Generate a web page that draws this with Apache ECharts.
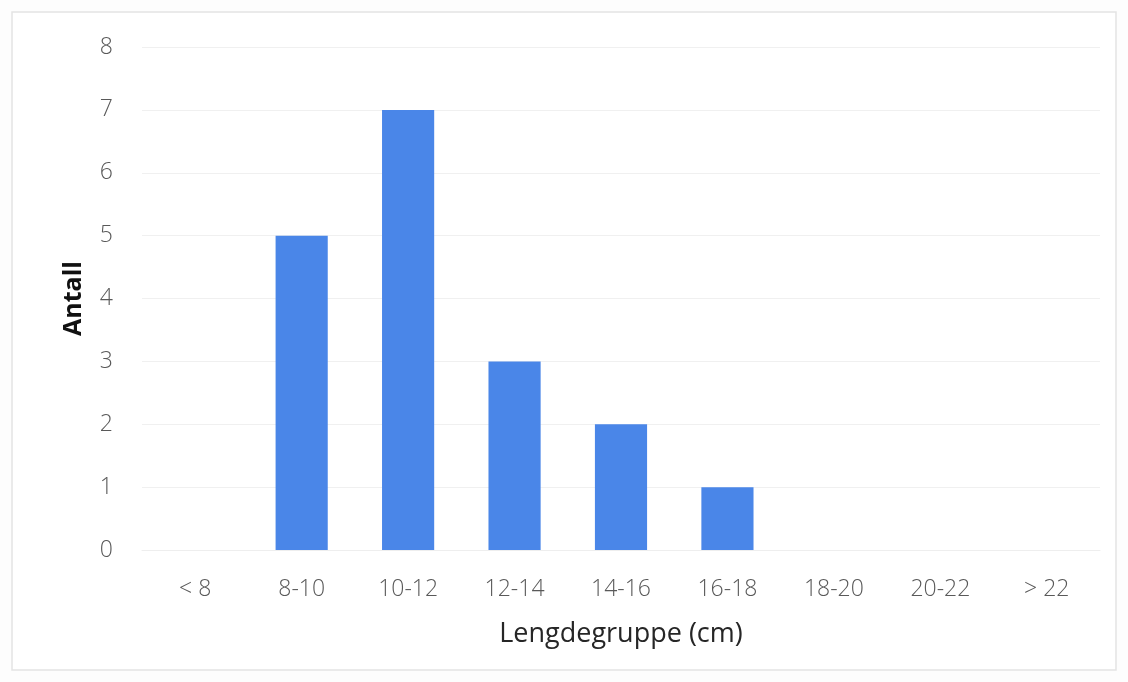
<!DOCTYPE html>
<html><head><meta charset="utf-8">
<script src="https://cdn.jsdelivr.net/npm/echarts@6/dist/echarts.min.js"></script>
<style>html,body{margin:0;padding:0;background:#fff}#c{width:1128px;height:682px}</style>
</head><body><div id="c"></div>
<script>
const categories = ["< 8","8-10","10-12","12-14","14-16","16-18","18-20","20-22","> 22"];
const counts = [0,5,7,3,2,1,0,0,0];
const yTicks = {min:0, max:8, interval:1};
const xTitle = "Lengdegruppe (cm)";
const yTitle = "Antall";

const chart = echarts.init(document.getElementById('c'));
chart.setOption({
  animation:false,
  backgroundColor:'#fdfdfd',
  graphic:[{type:'rect',shape:{x:12,y:12,width:1104,height:658},style:{fill:'#ffffff',stroke:'#e4e4e4',lineWidth:1.5},z:-10}],
  grid:{left:142,right:28,top:47,bottom:132},
  xAxis:{type:'category',data:categories,
    axisLine:{show:true,lineStyle:{color:'#eeeeee'}},axisTick:{show:false},
    axisLabel:{color:'#595959',fontSize:23,fontFamily:'Open Sans',fontWeight:300,margin:28},
    name:xTitle,nameLocation:'middle',nameGap:71,
    nameTextStyle:{color:'#262626',fontSize:27,fontFamily:'Open Sans'}},
  yAxis:{type:'value',min:yTicks.min,max:yTicks.max,interval:yTicks.interval,
    axisLine:{show:false},axisTick:{show:false},
    splitLine:{lineStyle:{color:'#f0f0f0'}},
    axisLabel:{color:'#595959',fontSize:23,fontFamily:'Open Sans',fontWeight:300,margin:29},
    name:yTitle,nameLocation:'middle',nameGap:56,nameRotate:90,
    nameTextStyle:{color:'#111',fontSize:25,fontWeight:'bold',fontFamily:'Open Sans'}},
  series:[{type:'bar',data:counts,barWidth:'49%',itemStyle:{color:'#4a86e8'}}]
});
</script></body></html>
